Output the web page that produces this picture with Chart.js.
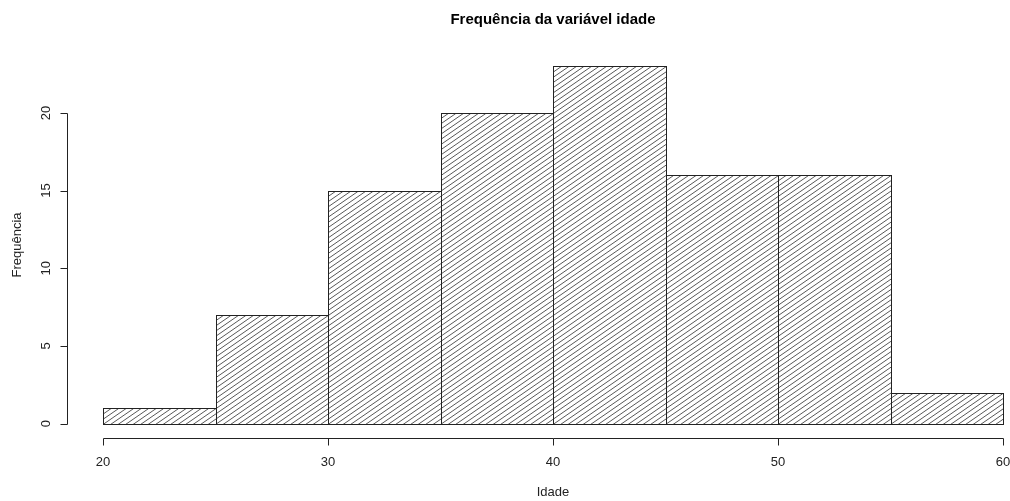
<!DOCTYPE html>
<html>
<head>
<meta charset="utf-8">
<script src="https://cdn.jsdelivr.net/npm/chart.js@4/dist/chart.umd.min.js"></script>
<style>
  html, body { margin: 0; padding: 0; background: #fff; overflow: hidden; }
  #wrap { width: 1039px; height: 501px; position: relative; }
</style>
</head>
<body>
<div id="wrap"><canvas id="c"></canvas></div>
<script>
const titleText = 'Frequência da variável idade';
const xLabel = 'Idade';
const yLabel = 'Frequência';
const binEdges = [20, 25, 30, 35, 40, 45, 50, 55, 60];
const counts = [1, 7, 15, 20, 23, 16, 16, 2];
const xTicks = [20, 30, 40, 50, 60];
const yTicks = [0, 5, 10, 15, 20];

const barData = counts.map((c, i) => ({ x: (binEdges[i] + binEdges[i + 1]) / 2, y: c }));

const FONT = '"Liberation Sans", Arial, sans-serif';

const hatchPlugin = {
  id: 'hatch',
  afterDatasetsDraw(chart) {
    const ctx = chart.ctx;
    const xs = chart.scales.x, ys = chart.scales.y;
    const pxPerX = Math.abs(xs.getPixelForValue(1) - xs.getPixelForValue(0));
    const pxPerY = Math.abs(ys.getPixelForValue(0) - ys.getPixelForValue(1));
    const slope = pxPerY / pxPerX; // 45 degrees in data units
    const spacing = 7.5;
    const meta = chart.getDatasetMeta(0);
    const edgePx = (v) => Math.round(xs.getPixelForValue(v)) + 0.5;
    ctx.save();
    meta.data.forEach((bar, i) => {
      const p = bar.getProps(['y', 'base'], true);
      const x0 = edgePx(binEdges[i]), x1 = edgePx(binEdges[i + 1]);
      const y0 = Math.round(Math.min(p.y, p.base)) + 0.5, y1 = Math.round(Math.max(p.y, p.base)) + 0.5;
      const h = y1 - y0;
      ctx.save();
      ctx.beginPath();
      ctx.rect(x0, y0, x1 - x0, h);
      ctx.clip();
      ctx.strokeStyle = '#444';
      ctx.lineWidth = 0.9;
      ctx.beginPath();
      const dx = h / slope;
      const start = xs.getPixelForValue(binEdges[0]);
      let k = Math.floor((x0 - dx - start) / spacing);
      for (let sx = start + k * spacing; sx <= x1; sx += spacing) {
        ctx.moveTo(sx, y1);
        ctx.lineTo(sx + dx, y0);
      }
      ctx.stroke();
      ctx.restore();
      ctx.strokeStyle = '#222';
      ctx.lineWidth = 1;
      ctx.strokeRect(x0, y0, x1 - x0, h);
    });
    ctx.restore();
  }
};

const axesPlugin = {
  id: 'rAxes',
  afterDraw(chart) {
    const ctx = chart.ctx;
    const xs = chart.scales.x, ys = chart.scales.y;
    const area = chart.chartArea;
    ctx.save();
    ctx.strokeStyle = '#222';
    ctx.lineWidth = 1;
    ctx.fillStyle = '#222';
    ctx.font = '13px ' + FONT;

    // x axis
    const ax = Math.round(area.bottom) + 0.5;
    ctx.beginPath();
    ctx.moveTo(Math.round(xs.getPixelForValue(xTicks[0])) + 0.5, ax);
    ctx.lineTo(Math.round(xs.getPixelForValue(xTicks[xTicks.length - 1])) + 0.5, ax);
    xTicks.forEach(v => {
      const px = Math.round(xs.getPixelForValue(v)) + 0.5;
      ctx.moveTo(px, ax);
      ctx.lineTo(px, ax + 7);
    });
    ctx.stroke();
    ctx.textAlign = 'center';
    ctx.textBaseline = 'middle';
    xTicks.forEach(v => {
      ctx.fillText(String(v), xs.getPixelForValue(v), 462);
    });

    // y axis
    const ay = Math.round(area.left) + 0.5;
    ctx.beginPath();
    ctx.moveTo(ay, Math.round(ys.getPixelForValue(yTicks[0])) + 0.5);
    ctx.lineTo(ay, Math.round(ys.getPixelForValue(yTicks[yTicks.length - 1])) + 0.5);
    yTicks.forEach(v => {
      const py = Math.round(ys.getPixelForValue(v)) + 0.5;
      ctx.moveTo(ay, py);
      ctx.lineTo(ay - 7, py);
    });
    ctx.stroke();
    yTicks.forEach(v => {
      ctx.save();
      ctx.translate(46, ys.getPixelForValue(v));
      ctx.rotate(-Math.PI / 2);
      ctx.fillText(String(v), 0, 0);
      ctx.restore();
    });

    // axis titles
    const cx = xs.getPixelForValue((xs.min + xs.max) / 2);
    const cy = (area.top + area.bottom) / 2;
    ctx.fillText(xLabel, cx, 492);
    ctx.save();
    ctx.translate(17, cy);
    ctx.rotate(-Math.PI / 2);
    ctx.fillText(yLabel, 0, 0);
    ctx.restore();

    // main title
    ctx.fillStyle = '#000';
    ctx.font = 'bold 15px ' + FONT;
    ctx.fillText(titleText, cx, 20);
    ctx.restore();
  }
};

new Chart(document.getElementById('c'), {
  type: 'bar',
  data: {
    datasets: [{
      data: barData,
      backgroundColor: 'rgba(0,0,0,0)',
      borderColor: 'rgba(0,0,0,0)',
      borderWidth: 0,
      barPercentage: 1,
      categoryPercentage: 1
    }]
  },
  options: {
    responsive: true,
    maintainAspectRatio: false,
    animation: false,
    events: [],
    layout: { padding: { left: 67, right: 0, top: 52, bottom: 63 } },
    plugins: { legend: { display: false }, tooltip: { enabled: false }, title: { display: false } },
    scales: {
      x: {
        type: 'linear',
        display: false,
        offset: false,
        min: 18.4,
        max: 61.6,
        afterBuildTicks: (axis) => { axis.ticks = xTicks.map(v => ({ value: v })); }
      },
      y: {
        type: 'linear',
        display: false,
        min: -0.92,
        max: 23.92,
        afterBuildTicks: (axis) => { axis.ticks = yTicks.map(v => ({ value: v })); }
      }
    }
  },
  plugins: [hatchPlugin, axesPlugin]
});
</script>
</body>
</html>
